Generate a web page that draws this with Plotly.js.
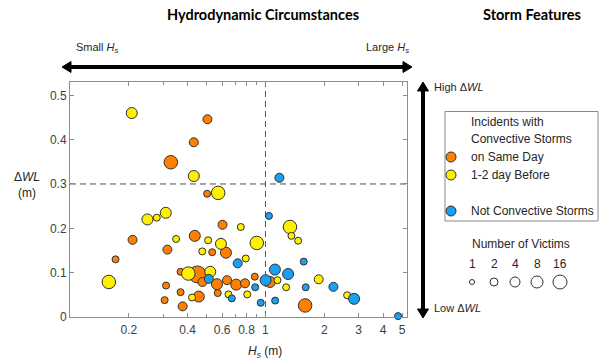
<!DOCTYPE html>
<html>
<head>
<meta charset="utf-8">
<script src="https://cdn.plot.ly/plotly-3.0.1.min.js"></script>
<style>html,body{margin:0;padding:0;background:#fff;}#chart{width:599px;height:362px;}</style>
</head>
<body>
<div id="chart"></div>
<script>
// ---- Data ----
// Incidents with convective storms on the same day (orange)
const hsSame  = [0.505,0.430,0.328,0.503,0.209,0.171,0.603,0.435,0.315,0.534,0.628,0.368,0.449,0.476,0.565,0.636,0.709,0.786,0.882,1.054,0.310,0.368,0.456,0.570,0.305,0.377,1.596];
const wlSame  = [0.446,0.394,0.349,0.278,0.174,0.130,0.208,0.183,0.152,0.146,0.145,0.102,0.096,0.079,0.074,0.083,0.073,0.076,0.091,0.079,0.071,0.056,0.046,0.054,0.038,0.024,0.026];
const vicSame = [2,2,8,1,2,1,2,4,2,1,4,1,16,2,4,2,4,2,1,4,1,1,4,1,1,2,8];
// Incidents with convective storms 1-2 day before (yellow)
const hsBefore  = [0.207,0.430,0.573,0.309,0.249,0.278,0.158,0.748,0.349,0.509,0.592,0.903,0.475,0.793,0.403,0.522,1.152,0.421,0.647,0.807,1.335,1.358,1.470,1.873,1.276,2.617];
const wlBefore  = [0.460,0.318,0.280,0.235,0.220,0.224,0.079,0.203,0.176,0.173,0.165,0.167,0.148,0.132,0.098,0.102,0.083,0.044,0.051,0.051,0.203,0.183,0.172,0.085,0.067,0.049];
const vicBefore = [4,4,8,4,4,1,8,1,1,1,4,8,1,1,8,4,1,1,1,1,8,1,1,2,1,1];
// Not convective storms (blue)
const hsNot  = [1.179,1.042,0.721,0.513,0.673,0.886,0.946,1.002,1.118,1.306,1.121,1.570,1.607,2.227,2.841,4.77];
const wlNot  = [0.314,0.228,0.121,0.086,0.042,0.067,0.032,0.083,0.107,0.097,0.037,0.125,0.067,0.068,0.041,0.002];
const vicNot = [2,1,2,2,1,1,1,4,4,4,1,1,1,2,4,1];

const xTickVals = [0.2,0.4,0.6,0.8,1,2,3,4,5];
const xTickText = ['0.2','0.4','0.6','0.8','1','2','3','4','5'];
const xMinorTickVals = [0.3,0.5,0.7,0.9];
const yTickVals = [0,0.1,0.2,0.3,0.4,0.5];
const victimLevels = [1,2,4,8,16];
const hsThreshold = 1;
const wlThreshold = 0.3;
const xRange = [0.1, 5.3];
const yRange = [0, 0.53];

// ---- Styles ----
const C_SAME = '#FF8000', C_BEFORE = '#FFF000', C_NOT = '#1AA0F0';
const sizeMap = {1:7, 2:9, 4:11, 8:13.5, 16:17};
const legSizeMap = {1:5, 2:8, 4:10, 8:12, 16:14};
const FONT = 'Liberation Sans, Arial, sans-serif';

function pts(xs, ys, vs, color){
  return {
    type:'scatter', mode:'markers', x:xs, y:ys, hoverinfo:'skip', showlegend:false,
    marker:{color:color, size:vs.map(v=>sizeMap[v]), line:{color:'#303030', width:1}, opacity:1},
    cliponaxis:false
  };
}

const traces = [
  {type:'scatter', mode:'lines', x:[hsThreshold,hsThreshold], y:yRange, line:{color:'#505050', width:1, dash:'6px,4px'}, showlegend:false, hoverinfo:'skip'},
  {type:'scatter', mode:'lines', x:xRange, y:[wlThreshold,wlThreshold], line:{color:'#505050', width:1, dash:'6px,4px'}, showlegend:false, hoverinfo:'skip'},
  pts(hsSame, wlSame, vicSame, C_SAME),
  pts(hsBefore, wlBefore, vicBefore, C_BEFORE),
  pts(hsNot, wlNot, vicNot, C_NOT)
];

// pixel -> paper helpers
const L=70, R=407, T=82, B=317;
const px = p => (p-L)/(R-L);
const py = p => (B-p)/(B-T);

const shapes = [];
const annotations = [];

// Horizontal double arrow
const ay = 67, axL = 62, axR = 412, hl = 9, hw = 5.5;
shapes.push({type:'line', xref:'paper', yref:'paper', x0:px(axL+hl-1), x1:px(axR-hl+1), y0:py(ay), y1:py(ay), line:{color:'#000', width:4}});
shapes.push({type:'path', xref:'paper', yref:'paper', path:`M${px(axL)},${py(ay)} L${px(axL+hl)},${py(ay-hw)} L${px(axL+hl)},${py(ay+hw)} Z`, fillcolor:'#000', line:{color:'#000', width:1}});
shapes.push({type:'path', xref:'paper', yref:'paper', path:`M${px(axR)},${py(ay)} L${px(axR-hl)},${py(ay-hw)} L${px(axR-hl)},${py(ay+hw)} Z`, fillcolor:'#000', line:{color:'#000', width:1}});
// Vertical double arrow
const vx = 423, vT = 82, vB = 318;
shapes.push({type:'line', xref:'paper', yref:'paper', x0:px(vx), x1:px(vx), y0:py(vT+hl-1), y1:py(vB-hl+1), line:{color:'#000', width:4}});
shapes.push({type:'path', xref:'paper', yref:'paper', path:`M${px(vx)},${py(vT)} L${px(vx-hw)},${py(vT+hl)} L${px(vx+hw)},${py(vT+hl)} Z`, fillcolor:'#000', line:{color:'#000', width:1}});
shapes.push({type:'path', xref:'paper', yref:'paper', path:`M${px(vx)},${py(vB)} L${px(vx-hw)},${py(vB-hl)} L${px(vx+hw)},${py(vB-hl)} Z`, fillcolor:'#000', line:{color:'#000', width:1}});

// Legend box
shapes.push({type:'rect', xref:'paper', yref:'paper', x0:px(445), x1:px(598), y0:py(111.5), y1:py(221), line:{color:'#8a8a8a', width:1}, fillcolor:'rgba(0,0,0,0)'});
function legCircle(cx, cy, d, fill){
  shapes.push({type:'circle', xref:'paper', yref:'paper', x0:px(cx-d/2), x1:px(cx+d/2), y0:py(cy+d/2), y1:py(cy-d/2), fillcolor:fill, line:{color:'#303030', width:1}});
}
legCircle(451, 157, 10, C_SAME);
legCircle(451, 175, 10, C_BEFORE);
legCircle(451, 211, 10, C_NOT);

function txt(text, x, y, opts){
  annotations.push(Object.assign({text:text, xref:'paper', yref:'paper', x:px(x), y:py(y), showarrow:false, xanchor:'center', yanchor:'middle', font:{family:FONT, size:12, color:'#262626'}}, opts||{}));
}
// Titles
txt('<b>Hydrodynamic Circumstances</b>', 263, 14, {font:{family:'Lato, Open Sans, sans-serif', size:14.5, color:'#000'}});
txt('<b>Storm Features</b>', 532, 14, {font:{family:'Lato, Open Sans, sans-serif', size:14.5, color:'#000'}});
// Arrow labels
txt('Small <i>H<sub>s</sub></i>', 74, 48, {xanchor:'left', font:{family:FONT, size:11, color:'#262626'}});
txt('Large <i>H<sub>s</sub></i>', 411, 48, {xanchor:'right', font:{family:FONT, size:11, color:'#262626'}});
txt('High Δ<i>WL</i>', 432, 87, {xanchor:'left', font:{family:FONT, size:11, color:'#262626'}});
txt('Low Δ<i>WL</i>', 432, 308, {xanchor:'left', font:{family:FONT, size:11, color:'#262626'}});
// Axis titles
txt('Δ<i>WL</i>', 27, 177, {font:{family:FONT, size:12, color:'#262626'}});
txt('(m)', 27, 193, {font:{family:FONT, size:12, color:'#262626'}});
txt('<i>H<sub>s</sub></i> (m)', 265, 352, {font:{family:FONT, size:12, color:'#262626'}});
// Legend text
txt('Incidents with', 469, 122, {xanchor:'left'});
txt('Convective Storms', 469, 139, {xanchor:'left'});
txt('on Same Day', 469, 157, {xanchor:'left'});
txt('1-2 day Before', 469, 175, {xanchor:'left'});
txt('Not Convective Storms', 469, 211, {xanchor:'left'});
// Size legend
txt('Number of Victims', 521, 244);
const sizeLegX = [472, 494, 515, 537, 560];
victimLevels.forEach((v,i)=>{
  txt(String(v), sizeLegX[i], 264);
  legCircle(sizeLegX[i], 282, legSizeMap[v], 'rgba(0,0,0,0)');
});

const axisCommon = {
  showline:true, linecolor:'#8c8c8c', linewidth:1, mirror:'ticks',
  ticks:'inside', ticklen:4, tickcolor:'#8c8c8c', tickwidth:1,
  showgrid:false, zeroline:false,
  tickfont:{family:FONT, size:12, color:'#404040'}
};

const layout = {
  width:599, height:362,
  margin:{l:L, r:599-R, t:T, b:362-B, pad:0},
  paper_bgcolor:'#fff', plot_bgcolor:'#fff',
  showlegend:false,
  xaxis:Object.assign({}, axisCommon, {type:'log', range:[Math.log10(xRange[0]), Math.log10(xRange[1])], tickmode:'array', tickvals:xTickVals, ticktext:xTickText, ticklabelstandoff:2,
    minor:{tickmode:'array', tickvals:xMinorTickVals, ticks:'inside', ticklen:3, tickcolor:'#8c8c8c', tickwidth:1, showgrid:false}}),
  yaxis:Object.assign({}, axisCommon, {range:yRange, tickmode:'array', tickvals:yTickVals}),
  shapes:shapes,
  annotations:annotations
};

Plotly.newPlot('chart', traces, layout, {staticPlot:true, displayModeBar:false});
</script>
</body>
</html>
